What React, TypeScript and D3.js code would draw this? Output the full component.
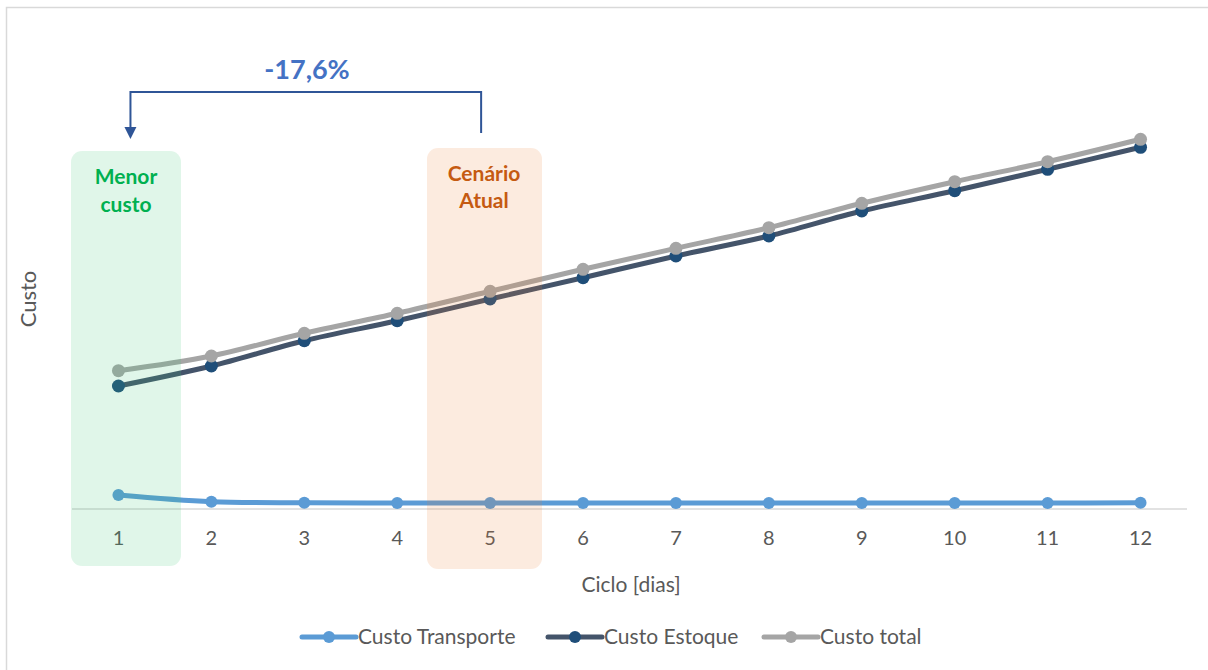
import React from "react";
import * as d3 from "d3";

// Cycle length in days
const ciclos = [1, 2, 3, 4, 5, 6, 7, 8, 9, 10, 11, 12];

// Cost series (same arbitrary cost unit for all)
const custoTransporte = [14, 7.3, 6.2, 6.1, 6.0, 6.0, 6.0, 6.0, 6.0, 6.0, 6.0, 6.3];
const custoEstoque = [123, 143, 168.3, 188.3, 210, 231.3, 253, 273, 298, 318.3, 339.7, 361.7];
const custoTotal = [138.3, 153, 175.7, 195.7, 217.7, 239.7, 260.7, 281.3, 305.7, 327.3, 347.3, 369.7];

const seriesNames = ["Custo Transporte", "Custo Estoque", "Custo total"];

const W = 1208;
const H = 670;
const FONT = "Lato, 'Noto Sans', sans-serif";

export default function App() {
  const x = d3
    .scaleBand<number>()
    .domain(ciclos)
    .range([72, 1187]);
  const cx = (c: number) => (x(c) as number) + x.bandwidth() / 2;
  const y = d3.scaleLinear().domain([0, 470]).range([509, 39]);

  const line = d3
    .line<number>()
    .x((_, i) => cx(ciclos[i]))
    .y((v) => y(v))
    .curve(d3.curveCatmullRom.alpha(0.5));

  const series = [
    { name: seriesNames[0], values: custoTransporte, stroke: "#5b9bd5", marker: "#5b9bd5", r: 6 },
    { name: seriesNames[1], values: custoEstoque, stroke: "#44546a", marker: "#1f4e79", r: 6.5 },
    { name: seriesNames[2], values: custoTotal, stroke: "#a5a5a5", marker: "#a5a5a5", r: 6.5 },
  ];

  // highlighted scenarios
  const bestX = cx(1);
  const currentX = cx(5);

  const legend = [
    { lx: 302, tx: 358 },
    { lx: 548, tx: 604 },
    { lx: 764, tx: 820 },
  ];

  return (
    <svg
      width={W}
      height={H}
      style={{ position: "absolute", left: 0, top: 0, background: "#fff" }}
      fontFamily={FONT}
    >
      <rect x={6.5} y={7.5} width={W + 10} height={H + 10} fill="#fff" stroke="#d9d9d9" strokeWidth={1.5} />

      {/* category axis */}
      <line x1={72} x2={1187} y1={y(0)} y2={y(0)} stroke="#d9d9d9" strokeWidth={1.5} />
      {ciclos.map((c) => (
        <text key={c} x={cx(c)} y={545} textAnchor="middle" fontSize={20} fill="#595959">
          {c}
        </text>
      ))}
      <text x={631} y={592} textAnchor="middle" fontSize={21} fill="#595959">
        Ciclo [dias]
      </text>
      <text
        transform={`translate(36,299) rotate(-90)`}
        textAnchor="middle"
        fontSize={22}
        fill="#595959"
      >
        Custo
      </text>

      {/* series lines and markers */}
      {series.map((s) => (
        <g key={s.name}>
          <path d={line(s.values) || ""} fill="none" stroke={s.stroke} strokeWidth={5} strokeLinejoin="round" strokeLinecap="round" />
          {s.values.map((v, i) => (
            <circle key={i} cx={cx(ciclos[i])} cy={y(v)} r={s.r} fill={s.marker} />
          ))}
        </g>
      ))}

      {/* scenario highlight boxes */}
      <rect x={71} y={151} width={110} height={415} rx={11} fill="#3cc878" fillOpacity={0.16} />
      <rect x={427} y={148} width={115} height={421} rx={11} fill="#ed7d31" fillOpacity={0.155} />
      <text x={126} y={184} textAnchor="middle" fontSize={21} fontWeight={700} fill="#00b050">
        <tspan x={126}>Menor</tspan>
        <tspan x={126} dy={28}>custo</tspan>
      </text>
      <text x={484} y={181} textAnchor="middle" fontSize={21} fontWeight={700} fill="#c55a11">
        <tspan x={484}>Cenário</tspan>
        <tspan x={484} dy={27}>Atual</tspan>
      </text>

      {/* reduction bracket */}
      <path
        d={`M${currentX - 9},133 V92 H${bestX + 12} V128`}
        fill="none"
        stroke="#2f5597"
        strokeWidth={2}
      />
      <path d={`M${bestX + 6},127 L${bestX + 18},127 L${bestX + 12},139 Z`} fill="#2f5597" />
      <text x={307} y={79} textAnchor="middle" fontSize={27} fontWeight={700} fill="#4472c4">
        -17,6%
      </text>

      {/* legend */}
      {series.map((s, i) => (
        <g key={s.name}>
          <line x1={legend[i].lx} x2={legend[i].lx + 54} y1={637} y2={637} stroke={s.stroke} strokeWidth={5} strokeLinecap="round" />
          <circle cx={legend[i].lx + 27} cy={637} r={6} fill={s.marker} />
          <text x={legend[i].tx} y={644} fontSize={21} fill="#595959">
            {s.name}
          </text>
        </g>
      ))}
    </svg>
  );
}
